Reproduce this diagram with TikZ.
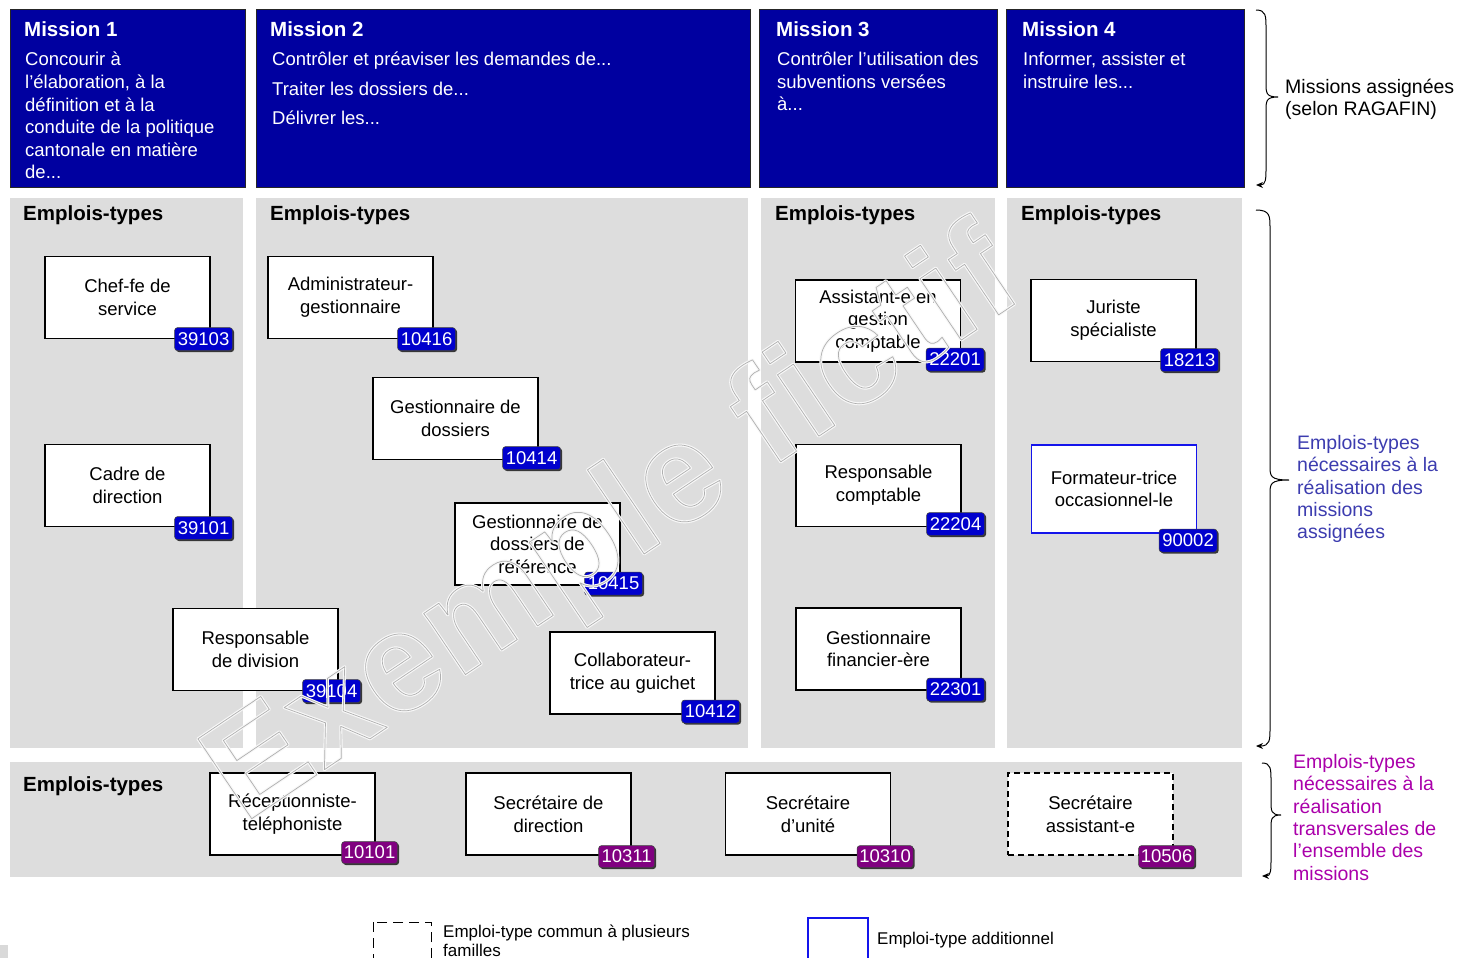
\documentclass[tikz,border=0pt]{standalone}
\usepackage{fontspec}
\setmainfont{Liberation Sans}
\newfontfamily\dgwmfamily{Liberation Sans Bold}[LetterSpace=2]
\usetikzlibrary{shadows,arrows.meta}

% colours
\definecolor{headblue}{RGB}{0,0,160}
\definecolor{badgeblue}{RGB}{0,0,205}
\definecolor{badgepurple}{RGB}{128,0,128}
\definecolor{panelgray}{RGB}{221,221,221}
\definecolor{addblue}{RGB}{20,20,235}
\definecolor{sideblue}{RGB}{60,60,175}
\definecolor{sidepurple}{RGB}{170,0,170}
\definecolor{wmgray}{RGB}{175,175,175}
\definecolor{wmlight}{RGB}{248,248,248}

% fonts
\newcommand\dghead{\fontsize{20.5}{24}\selectfont\bfseries}
\newcommand\dgbody{\fontsize{18.5}{22.6}\selectfont}
\newcommand\dgbodywide{\fontsize{18.5}{29.2}\selectfont}
\newcommand\dgjob{\fontsize{18.5}{22.6}\selectfont}
\newcommand\dgbadge{\fontsize{18.5}{20}\selectfont}
\newcommand\dgside{\fontsize{19.5}{22.4}\selectfont}
\newcommand\dglegend{\fontsize{17}{19}\selectfont}
\newcommand\dgwm{\dgwmfamily\fontsize{140}{140}\selectfont}

% stroked (hollow) text: colour, line width, text
\newcommand\dgoutline[3]{{\color{#1}\special{pdf:literal direct #2 w 1 j 1 Tr}#3\special{pdf:literal direct 0 Tr}}}

% right-hand curly brace ending in an arrow head
% #1 outer x, #2 stem x, #3 tip x, #4 top y, #5 tip y, #6 bottom y
\newcommand\dgbrace[6]{%
  \draw[line width=1pt, -{Stealth[length=7pt,width=6pt]}]
    (#1,#4) .. controls (#2,#4) and (#2,#4+6) .. (#2,#4+18)
    -- (#2,#5-14) .. controls (#2,#5-4) and (#2,#5) .. (#3,#5)
    .. controls (#2,#5) and (#2,#5+4) .. (#2,#5+14)
    -- (#2,#6-18) .. controls (#2,#6-6) and (#2,#6) .. (#1,#6);}

\tikzset{
  mission/.style={draw=black!85, line width=1pt, fill=headblue},
  panel/.style={fill=panelgray},
  mtitle/.style={anchor=base west, inner sep=0pt, text=white, font=\dghead},
  mbody/.style={anchor=north west, inner sep=0pt, text=white, align=left, font=\dgbody},
  etitle/.style={anchor=base west, inner sep=0pt, font=\dghead},
  job/.style={draw=black, line width=1.2pt, fill=white, minimum width=165pt,
    minimum height=82pt, align=center, font=\dgjob, inner sep=2pt},
  addjob/.style={job, draw=addblue, minimum height=88pt},
  commonjob/.style={job, dash pattern=on 6pt off 4pt},
  badge/.style={rounded corners=3pt, fill=badgeblue, draw=black!75, line width=0.6pt,
    text=white, font=\dgbadge, inner xsep=2pt, inner ysep=1pt,
    minimum width=58pt, minimum height=23pt,
    drop shadow={shadow xshift=1.5pt, shadow yshift=-1.5pt, fill=black!85, opacity=0.9}},
  tbadge/.style={badge, fill=badgepurple, minimum width=56pt, minimum height=22pt},
  side/.style={anchor=north west, inner sep=0pt, align=left, font=\dgside},
  legend/.style={anchor=north west, inner sep=0pt, align=left, font=\dglegend},
  wmtext/.style={rotate=34, inner sep=0pt},
}

\begin{document}
\begin{tikzpicture}[x=1pt,y=-1pt]
\useasboundingbox (0,0) rectangle (1462,958);

% mission headers
\draw[mission] (10,10) rectangle (245,187);
\draw[mission] (256,10) rectangle (750,187);
\draw[mission] (759,10) rectangle (997,187);
\draw[mission] (1006,10) rectangle (1244,187);

\node[mtitle] (m1) at (24,37) {Mission 1};
\node[mtitle] (m2) at (270,37) {Mission 2};
\node[mtitle] (m3) at (776,37) {Mission 3};
\node[mtitle] (m4) at (1022,37) {Mission 4};

\node[mbody] (m1text) at (25,52) {Concourir à\\l'élaboration, à la\\définition et à la\\conduite de la politique\\cantonale en matière\\de...};
\node[mbody, font=\dgbodywide] (m2text) at (272,52) {Contrôler et préaviser les demandes de...\\Traiter les dossiers de...\\Délivrer les...};
\node[mbody] (m3text) at (777,52) {Contrôler l'utilisation des\\subventions versées\\à...};
\node[mbody] (m4text) at (1023,52) {Informer, assister et\\instruire les...};

% job-type panels
\fill[panel] (10,198) rectangle (243,748);
\fill[panel] (256,198) rectangle (748,748);
\fill[panel] (761,198) rectangle (995,748);
\fill[panel] (1007,198) rectangle (1242,748);
\fill[panel] (10,762) rectangle (1242,877);

\node[etitle] (e1) at (23,220) {Emplois-types};
\node[etitle] (e2) at (270,220) {Emplois-types};
\node[etitle] (e3) at (775,220) {Emplois-types};
\node[etitle] (e4) at (1021,220) {Emplois-types};
\node[etitle] (e5) at (23,791) {Emplois-types};

% job types per mission
\node[job] (chef) at (127.5,297.5) {Chef-fe de\\service};
\node[job] (cadre) at (127.5,485.5) {Cadre de\\direction};
\node[job] (admin) at (350.5,297.5) {Administrateur-\\gestionnaire};
\node[job] (gdoss) at (455.5,418.5) {Gestionnaire de\\dossiers};
\node[job] (gref) at (537.5,544) {Gestionnaire de\\dossiers de\\référence};
\node[job] (rdiv) at (255.5,649.5) {Responsable\\de division};
\node[job] (collab) at (632.5,673) {Collaborateur-\\trice au guichet};
\node[job] (assist) at (878,321) {Assistant-e en\\gestion\\comptable};
\node[job] (rcompt) at (878.5,485.5) {Responsable\\comptable};
\node[job] (gfin) at (878.5,649) {Gestionnaire\\financier-ère};
\node[job] (juriste) at (1113.5,320.5) {Juriste\\spécialiste};
\node[addjob] (format) at (1114,489) {Formateur-trice\\occasionnel-le};

% cross-cutting job types
\node[job] (recep) at (292.5,814) {Réceptionniste-\\téléphoniste};
\node[job] (secdir) at (548.5,814) {Secrétaire de\\direction};
\node[job] (secunit) at (808,814) {Secrétaire\\d'unité};
\node[commonjob] (secass) at (1090.5,814) {Secrétaire\\assistant-e};

% code badges
\node[badge] (c39103) at ([xshift=-7pt]chef.south east) {39103};
\node[badge] (c39101) at ([xshift=-7pt,yshift=-1pt]cadre.south east) {39101};
\node[badge] (c10416) at ([xshift=-7pt]admin.south east) {10416};
\node[badge] (c10414) at ([xshift=-7pt,yshift=2pt]gdoss.south east) {10414};
\node[badge] (c10415) at ([xshift=-7pt,yshift=2pt]gref.south east) {10415};
\node[badge] (c39104) at ([xshift=-7pt]rdiv.south east) {39104};
\node[badge] (c10412) at ([xshift=-5pt,yshift=3pt]collab.south east) {10412};
\node[badge] (c22201) at ([xshift=-6pt,yshift=3pt]assist.south east) {22201};
\node[badge] (c22204) at ([xshift=-6pt,yshift=3pt]rcompt.south east) {22204};
\node[badge] (c22301) at ([xshift=-6pt,yshift=1pt]gfin.south east) {22301};
\node[badge] (c18213) at ([xshift=-7pt,yshift=2pt]juriste.south east) {18213};
\node[badge] (c90002) at ([xshift=-9pt,yshift=-7pt]format.south east) {90002};
\node[tbadge] (c10101) at ([xshift=-6pt,yshift=3pt]recep.south east) {10101};
\node[tbadge] (c10311) at ([xshift=-5pt,yshift=-1pt]secdir.south east) {10311};
\node[tbadge] (c10310) at ([xshift=-6pt,yshift=-1pt]secunit.south east) {10310};
\node[tbadge] (c10506) at ([xshift=-7pt,yshift=-1pt]secass.south east) {10506};

% braces and their captions
\dgbrace{1256}{1266}{1278}{10}{97}{185}
\dgbrace{1256}{1270}{1289}{210}{480}{746}
\dgbrace{1262}{1271}{1281}{763}{815}{876}

\node[side] (lmissions) at (1285,79) {Missions assignées\\(selon RAGAFIN)};
\node[side, text=sideblue] (lassigned) at (1297,435) {Emplois-types\\nécessaires à la\\réalisation des\\missions\\assignées};
\node[side, text=sidepurple] (lcommon) at (1293,754) {Emplois-types\\nécessaires à la\\réalisation\\transversales de\\l'ensemble des\\missions};

% legend
\draw[line width=1pt, dash pattern=on 10pt off 6pt] (373,922) rectangle (431,975);
\node[legend] (lgcommon) at (443,925) {Emploi-type commun à plusieurs\\familles};
\draw[line width=1.5pt, draw=addblue] (808,918) rectangle (868,975);
\node[legend, anchor=west] (lgadd) at (877,940) {Emploi-type additionnel};
\fill[black!15] (0,945) rectangle (8,958);

% watermark: hollow letters, light halo under a thin grey outline
\node[wmtext] (wmback) at (615,530) {\dgwm\dgoutline{wmlight}{3}{Exemple fictif}};
\node[wmtext] (wmark) at (615,530) {\dgwm\dgoutline{wmgray}{0.7}{Exemple fictif}};
\end{tikzpicture}
\end{document}
